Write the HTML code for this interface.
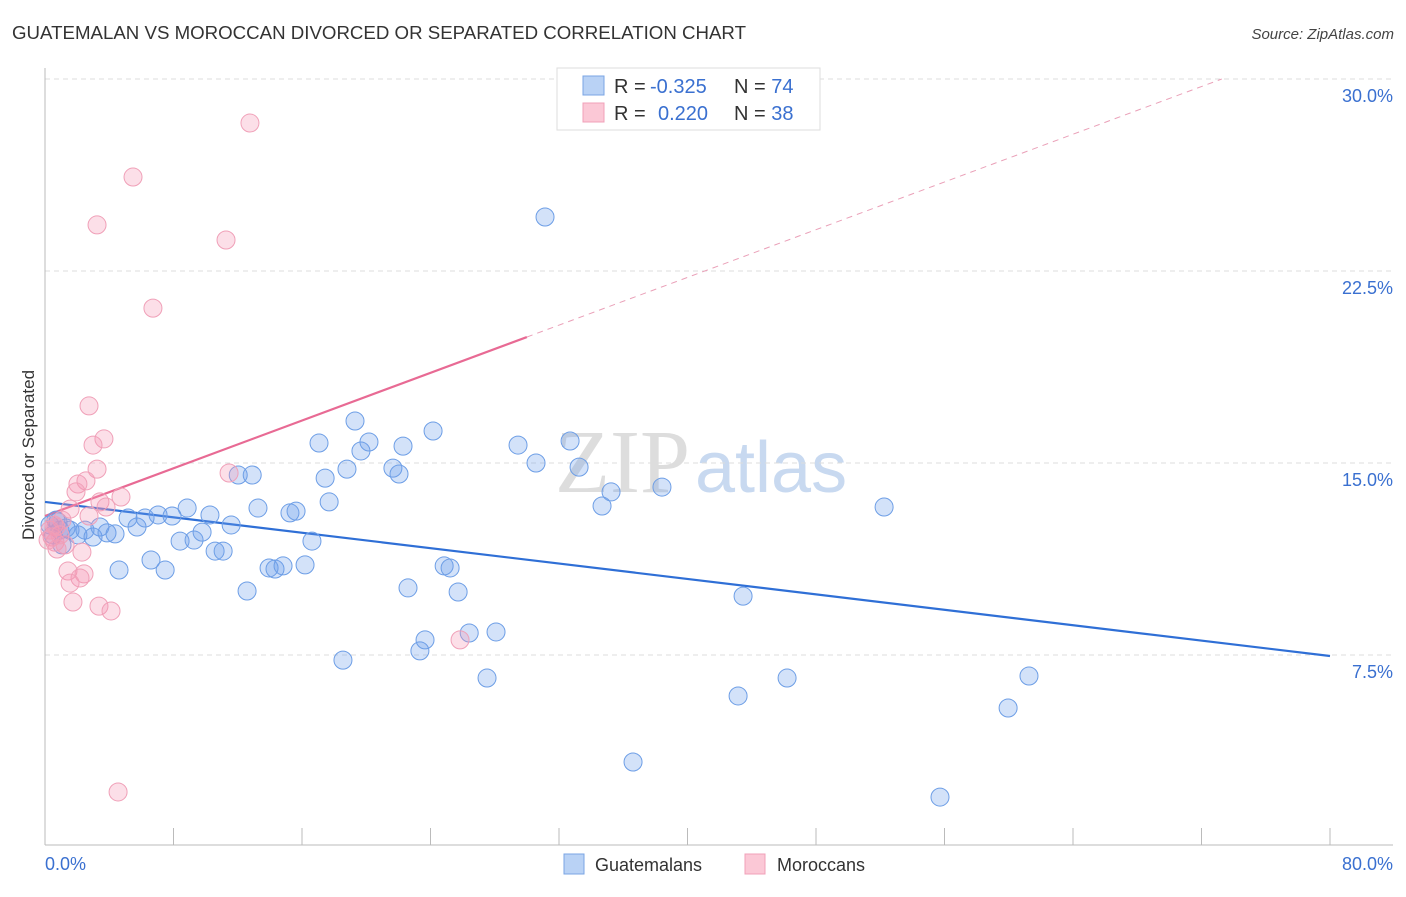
<!DOCTYPE html>
<html><head><meta charset="utf-8"><style>
body{margin:0;background:#fff;font-family:"Liberation Sans",sans-serif}
</style></head><body>
<svg width="1406" height="892" xmlns="http://www.w3.org/2000/svg" font-family="Liberation Sans, sans-serif">
<text x="12" y="39" font-size="18" fill="#333" textLength="734" lengthAdjust="spacingAndGlyphs">GUATEMALAN VS MOROCCAN DIVORCED OR SEPARATED CORRELATION CHART</text>
<text x="1394" y="39" font-size="15" fill="#444" text-anchor="end" font-style="italic">Source: ZipAtlas.com</text>
<text x="555" y="492" font-size="90" font-family="Liberation Serif, serif" fill="#ddd">ZIP<tspan fill="#c8d9f0" font-family="Liberation Sans, sans-serif" font-size="72" dx="5">atlas</tspan></text>
<g id="grid"></g>
<line x1="45" y1="68" x2="45" y2="845" stroke="#bbb"/>
<line x1="45" y1="845" x2="1393" y2="845" stroke="#bbb"/>
<g id="xticks"></g>
<text transform="translate(34,455) rotate(-90)" font-size="17" fill="#333" text-anchor="middle">Divorced or Separated</text>
<text x="45" y="870" font-size="18" fill="#3a70d0">0.0%</text>
<text x="1393" y="870" font-size="18" fill="#3a70d0" text-anchor="end">80.0%</text>
<g id="lines"></g>
<g id="points"></g>
<g>
<rect x="557" y="68" width="263" height="62" fill="#fff" stroke="#ddd"/>
<rect x="583" y="76" width="21" height="19" fill="#b9d2f5" stroke="#7aa4e4"/>
<rect x="583" y="103" width="21" height="19" fill="#fbc8d6" stroke="#f0a0b8"/>
<text x="614" y="93" font-size="20" fill="#333">R = <tspan fill="#3a70d0" x="650">-0.325</tspan><tspan x="734">N = </tspan><tspan fill="#3a70d0">74</tspan></text>
<text x="614" y="120" font-size="20" fill="#333">R = <tspan fill="#3a70d0" x="658">0.220</tspan><tspan x="734">N = </tspan><tspan fill="#3a70d0">38</tspan></text>
</g>
<g>
<rect x="564" y="854" width="20" height="20" fill="#b9d2f5" stroke="#7aa4e4"/>
<text x="595" y="871" font-size="18" fill="#333">Guatemalans</text>
<rect x="745" y="854" width="20" height="20" fill="#fbc8d6" stroke="#f0a0b8"/>
<text x="777" y="871" font-size="18" fill="#333">Moroccans</text>
</g>
</svg>
<script>
const yTicks=[7.5,15,22.5,30];
const yTickLabels=["7.5%","15.0%","22.5%","30.0%"];
const xTicks=[8,16,24,32,40,48,56,64,72,80];
const blueX=[31.13,0.68,0.93,1.56,2.05,2.49,2.99,3.42,3.86,4.36,4.61,5.17,5.73,6.23,6.60,7.04,7.48,7.91,8.41,8.85,9.28,9.78,10.27,10.59,11.09,11.59,12.03,12.90,12.58,13.26,13.95,14.32,14.82,15.25,15.63,16.19,16.62,17.06,17.44,17.69,18.55,18.80,19.30,19.67,20.17,21.66,22.04,22.29,22.60,23.34,23.66,24.16,24.85,25.22,25.72,26.41,27.52,28.08,29.45,30.57,32.69,33.25,34.68,35.24,36.61,38.41,43.15,43.46,46.2,52.24,55.72,59.96,61.26,0.31,0.50,0.81,1.31,1.06];
const blueY=[24.61,12.77,12.38,12.38,12.19,12.38,12.11,12.50,12.27,12.23,10.82,12.85,12.50,12.85,11.21,12.97,10.82,12.93,11.95,13.24,11.99,12.30,12.97,11.56,11.56,12.58,14.53,14.53,10.0,13.24,10.90,10.86,10.98,13.05,13.12,11.02,11.95,15.78,14.41,13.48,7.30,14.76,16.64,15.47,15.82,14.80,14.57,15.66,10.12,7.66,8.09,16.25,10.98,10.90,9.96,8.36,6.60,8.40,15.70,15.0,15.86,14.84,13.32,13.87,3.32,14.06,5.90,9.80,6.60,13.28,1.95,5.43,6.68,12.58,12.19,12.70,12.46,11.80];
const pinkX=[12.76,5.48,3.24,11.27,6.72,2.74,3.67,2.99,3.24,11.46,2.55,2.05,1.93,4.73,3.42,3.80,1.56,2.74,1.06,0.68,0.44,0.62,1.25,0.75,2.30,1.43,2.43,2.18,1.56,1.74,3.36,4.11,25.84,4.55,0.31,0.56,0.93,0.19];
const pinkY=[28.28,26.17,24.30,23.71,21.05,17.23,15.94,15.70,14.76,14.61,14.30,14.18,13.87,13.67,13.48,13.28,13.20,12.93,12.77,12.50,12.11,11.91,11.80,11.64,11.52,10.78,10.67,10.51,10.31,9.57,9.41,9.22,8.09,2.15,12.38,12.58,12.19,11.99];
const blueTrend=[13.48,7.46];
const pinkTrend=[12.93,19.92,30];
const NS="http://www.w3.org/2000/svg";
const X=v=>45+v*1285/80, Y=v=>847-v*25.6;
function mk(t,a,p){const e=document.createElementNS(NS,t);for(const k in a)e.setAttribute(k,a[k]);p.appendChild(e);return e;}
const grid=document.getElementById('grid');
yTicks.forEach((t,i)=>{
 const l=mk('line',{x1:45,x2:1393,y1:Y(t),y2:Y(t),stroke:'#ddd','stroke-dasharray':'5,4'},grid);
 
 
 const tx=mk('text',{x:1393,y:Y(t)+23,'font-size':18,fill:'#3a70d0','text-anchor':'end'},grid);
 tx.textContent=yTickLabels[i];
 
 
});
const xt=document.getElementById('xticks');
xTicks.forEach(t=>{
 const l=mk('line',{x1:X(t),x2:X(t),y1:828,y2:845,stroke:'#bbb'},xt);
 
 
});
const pts=document.getElementById('points');
blueX.forEach((v,i)=>{
 const c=mk('circle',{cx:X(v),cy:Y(blueY[i]),r:9,fill:'rgba(110,160,235,0.3)',stroke:'#6d9ee6','stroke-width':1},pts);
 
 
});
pinkX.forEach((v,i)=>{
 const c=mk('circle',{cx:X(v),cy:Y(pinkY[i]),r:9,fill:'rgba(245,150,180,0.3)',stroke:'#f0a0b8','stroke-width':1},pts);
 
 
});
const lg=document.getElementById('lines');
const bl=mk('line',{x1:X(0),y1:Y(blueTrend[0]),x2:X(80),y2:Y(blueTrend[1]),stroke:'#2f6fd6','stroke-width':2.2},lg);


const slope=(pinkTrend[1]-pinkTrend[0])/pinkTrend[2];
const pl=mk('line',{x1:X(0),y1:Y(pinkTrend[0]),x2:X(pinkTrend[2]),y2:Y(pinkTrend[1]),stroke:'#e86a94','stroke-width':2.2},lg);


const xEnd=(30-pinkTrend[0])/slope;
const pd=mk('line',{x1:X(pinkTrend[2]),y1:Y(pinkTrend[1]),x2:X(xEnd),y2:Y(30),stroke:'#eaa0b8','stroke-width':1,'stroke-dasharray':'6,5'},lg);


</script>
</body></html>
